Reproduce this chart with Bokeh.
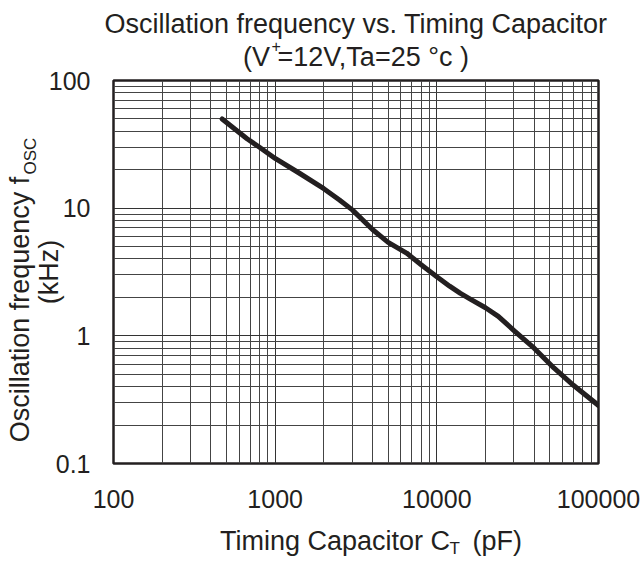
import math
from bokeh.plotting import figure
from bokeh.models import Range1d, FixedTicker, Label, CustomJSTickFormatter
from bokeh.embed import file_html
from bokeh.resources import INLINE

# ---- data ----
cap_pf = [470, 670, 800, 1000, 1430, 2000, 2500, 3000, 4000, 5000, 6500, 8000,
          10000, 12000, 14000, 16000, 20000, 24000, 30000, 40000, 53000, 70000, 100000]
freq_khz = [50, 35, 30, 24.5, 18.6, 14.2, 11.6, 9.7, 6.8, 5.4, 4.45, 3.6,
            2.9, 2.45, 2.15, 1.95, 1.66, 1.42, 1.1, 0.8, 0.56, 0.41, 0.285]

x_ticks = [100, 1000, 10000, 100000]
y_ticks = [0.1, 1, 10, 100]

NB = "\u00a0"
title_text = "Oscillation frequency vs. Timing Capacitor\n(V" + NB + "=12V,Ta=25 \u00b0c )"
x_title = NB * 4 + "Timing Capacitor C" + NB * 3 + "(pF)"
y_title = "Oscillation frequency f" + NB * 10 + "\n(kHz)"

FONT = "Liberation Sans"
INK = "#231f20"

def minor_between(majors):
    out = []
    for d in majors[:-1]:
        for m in range(2, 10):
            out.append(d * m)
    return out

p = figure(x_axis_type="log", y_axis_type="log",
           x_range=Range1d(100, 100000), y_range=Range1d(0.1, 100),
           frame_width=485, frame_height=383,
           min_border_left=113, min_border_right=46,
           min_border_top=80, min_border_bottom=100,
           output_backend="svg", toolbar_location=None)
p.title.visible = False

p.background_fill_color = "white"
p.border_fill_color = "white"
p.outline_line_color = INK
p.outline_line_width = 2.5

p.xaxis.ticker = FixedTicker(ticks=x_ticks, minor_ticks=minor_between(x_ticks))
p.yaxis.ticker = FixedTicker(ticks=y_ticks, minor_ticks=minor_between(y_ticks))
fmt = CustomJSTickFormatter(code="return tick.toString();")
for ax in (p.xaxis, p.yaxis):
    ax.formatter = fmt
    ax.axis_line_color = None
    ax.major_tick_line_color = None
    ax.minor_tick_line_color = None
    ax.major_tick_out = 0
    ax.major_tick_in = 0
    ax.minor_tick_out = 0
    ax.minor_tick_in = 0
    ax.major_label_text_font = FONT
    ax.major_label_text_font_size = "25px"
    ax.major_label_text_color = INK
    ax.axis_label_text_font = FONT
    ax.axis_label_text_font_size = "27px"
    ax.axis_label_text_font_style = "normal"
    ax.axis_label_text_color = INK
p.xaxis.major_label_standoff = 26
p.yaxis.major_label_standoff = 23
p.xaxis.axis_label = x_title
p.xaxis.axis_label_standoff = 15
p.yaxis.axis_label = y_title
p.yaxis.axis_label_standoff = -18
p.yaxis.axis_label_text_line_height = 0.95

for g in (p.xgrid, p.ygrid):
    g.grid_line_color = "#333333"
    g.grid_line_width = 1
    g.minor_grid_line_color = "#444444"
    g.minor_grid_line_width = 1

p.line(cap_pf, freq_khz, line_width=5, color=INK, line_cap="round", line_join="round")

def lab(text, x, y, size, place, align="left", angle=0.0, baseline="alphabetic", lh=1.2):
    p.add_layout(Label(x=x, y=y, x_units="screen", y_units="screen", text=text,
                       text_font=FONT, text_font_size=size, text_color=INK,
                       text_align=align, text_baseline=baseline, angle=angle,
                       text_line_height=lh), place)

# title block (above panel)
lab(title_text, 242.5, 72, "27px", "above", align="center", baseline="top", lh=1.1)
# small raised / lowered pieces (right panel; positions relative to their slot)
lab("T", -149, -85, "17px", "right")
lab("+", -337, 418, "16px", "right")
lab("OSC", -587, 289, "17px", "right", angle=math.pi / 2)

open("out.html", "w").write(file_html(p, INLINE))
